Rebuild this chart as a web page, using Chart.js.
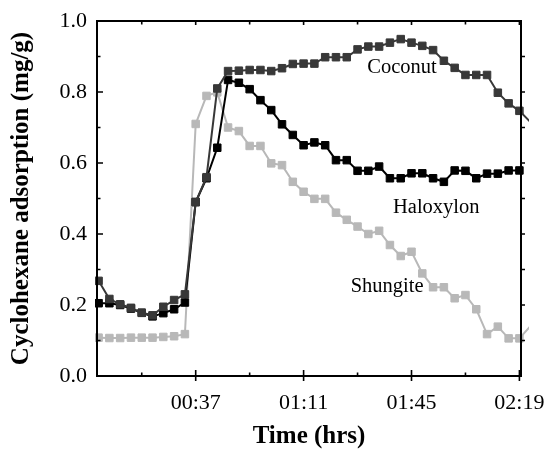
<!DOCTYPE html>
<html>
<head>
<meta charset="utf-8">
<script src="https://cdn.jsdelivr.net/npm/chart.js@4"></script>
<style>
  html, body { margin: 0; padding: 0; background: #fff; }
  canvas { display: block; }
</style>
</head>
<body>
<canvas id="chart" width="548" height="458"></canvas>
<script>
/* ── Data ───────────────────────────────────────────────── */

// sample times in minutes (one reading roughly every 3.4 min)
const timeMin = [
  6.2, 9.6, 13.0, 16.4, 19.8, 23.2, 26.6, 30.0, 33.4, 36.8,
  40.2, 43.6, 47.0, 50.4, 53.8, 57.2, 60.6, 64.0, 67.4, 70.8,
  74.2, 77.6, 81.0, 84.4, 87.8, 91.2, 94.6, 98.0, 101.4, 104.8,
  108.2, 111.6, 115.0, 118.4, 121.8, 125.2, 128.6, 132.0, 135.4, 138.8,
  142.2
];

const coconut = [
  0.268, 0.217, 0.202, 0.192, 0.178, 0.171, 0.195, 0.214, 0.230, 0.490,
  0.560, 0.810, 0.859, 0.860, 0.862, 0.862, 0.859, 0.867, 0.879, 0.880,
  0.880, 0.898, 0.898, 0.898, 0.920, 0.928, 0.928, 0.939, 0.949, 0.939,
  0.930, 0.918, 0.888, 0.868, 0.848, 0.848, 0.848, 0.798, 0.768, 0.747,
  0.716
];

const haloxylon = [
  0.205, 0.205, 0.200, 0.190, 0.178, 0.168, 0.177, 0.188, 0.207, 0.490,
  0.557, 0.643, 0.834, 0.826, 0.808, 0.777, 0.749, 0.709, 0.679, 0.650,
  0.658, 0.650, 0.608, 0.608, 0.578, 0.578, 0.590, 0.557, 0.557, 0.571,
  0.571, 0.557, 0.547, 0.579, 0.578, 0.557, 0.570, 0.570, 0.579, 0.579
];

const shungite = [
  0.108, 0.107, 0.107, 0.108, 0.108, 0.108, 0.110, 0.112, 0.118, 0.710,
  0.789, 0.799, 0.700, 0.690, 0.648, 0.648, 0.599, 0.594, 0.547, 0.519,
  0.499, 0.499, 0.460, 0.440, 0.421, 0.400, 0.409, 0.369, 0.338, 0.350,
  0.289, 0.250, 0.250, 0.219, 0.228, 0.188, 0.118, 0.139, 0.106, 0.106,
  0.140
];

const xTickValues = [36.8, 70.8, 104.8, 138.8];
const xTickLabels = ['00:37', '01:11', '01:45', '02:19'];
const xMinorTicks = [19.8, 53.8, 87.8, 121.8];

const seriesLabels = [
  { text: 'Coconut',   x: 101.8, y: 0.870 },
  { text: 'Haloxylon', x: 112.6, y: 0.473 },
  { text: 'Shungite',  x: 97.1,  y: 0.251 }
];


/* ── Config ─────────────────────────────────────────────── */

const X_MIN = 5.7;
const X_MAX = 139.3;
const FONT  = 'Liberation Serif';

const colors = {
  coconut:   '#383838',
  haloxylon: '#000000',
  shungite:  '#b8b8b8'
};

function toPoints(values) {
  return values.map((v, i) => ({ x: timeMin[i], y: v }));
}

function makeDataset(label, values, color) {
  return {
    label,
    data: toPoints(values),
    borderColor: color,
    backgroundColor: color,
    borderWidth: 2,
    pointStyle: 'rect',
    pointRadius: ctx => (ctx.raw && ctx.raw.x > X_MAX ? 0 : 5.3),
    pointBorderWidth: 1,
    pointBorderColor: color,
    pointBackgroundColor: color,
    tension: 0,
    clip: { left: 2, top: 2, right: 8, bottom: 2 }
  };
}


/* ── Frame, ticks and labels ───────────────────────────── */

const framePlugin = {
  id: 'frame',
  afterDraw(chart) {
    const { ctx, chartArea: a, scales } = chart;
    const xs = scales.x, ys = scales.y;
    ctx.save();
    ctx.strokeStyle = '#000';
    ctx.lineWidth = 2;
    ctx.strokeRect(a.left, a.top, a.right - a.left, a.bottom - a.top);

    ctx.lineWidth = 1.6;
    ctx.beginPath();
    // bottom + top ticks
    xTickValues.forEach(v => {
      const px = xs.getPixelForValue(v);
      ctx.moveTo(px, a.bottom + 5); ctx.lineTo(px, a.bottom - 6);
      ctx.moveTo(px, a.top);        ctx.lineTo(px, a.top + 4);
    });
    xMinorTicks.forEach(v => {
      const px = xs.getPixelForValue(v);
      ctx.moveTo(px, a.bottom); ctx.lineTo(px, a.bottom - 3.5);
      ctx.moveTo(px, a.top);    ctx.lineTo(px, a.top + 3.5);
    });
    // left + right ticks every 0.1
    for (let k = 1; k < 10; k++) {
      const py = ys.getPixelForValue(k / 10);
      const len = k % 2 === 0 ? 6 : 3.5;
      ctx.moveTo(a.left, py);  ctx.lineTo(a.left + len, py);
      ctx.moveTo(a.right, py); ctx.lineTo(a.right + 4, py);
    }
    ctx.stroke();

    ctx.fillStyle = '#000';
    ctx.font = `20.5px "${FONT}"`;
    ctx.textAlign = 'center';
    ctx.textBaseline = 'middle';
    seriesLabels.forEach(l => {
      ctx.fillText(l.text, xs.getPixelForValue(l.x), ys.getPixelForValue(l.y));
    });
    ctx.restore();
  }
};


/* ── Chart ──────────────────────────────────────────────── */

new Chart(document.getElementById('chart'), {
  type: 'line',
  data: {
    datasets: [
      makeDataset('Coconut',   coconut,   colors.coconut),
      makeDataset('Haloxylon', haloxylon, colors.haloxylon),
      makeDataset('Shungite',  shungite,  colors.shungite)
    ]
  },
  options: {
    responsive: false,
    animation: false,
    layout: { padding: { top: 21, right: 27, left: 0, bottom: 0 } },
    plugins: { legend: { display: false }, tooltip: { enabled: false } },
    scales: {
      x: {
        type: 'linear',
        min: X_MIN, max: X_MAX,
        afterFit: s => {
          s.height = 82;
          s.paddingLeft = 0;
          s.paddingRight = 0;
        },
        afterBuildTicks: s => { s.ticks = xTickValues.map(v => ({ value: v })); },
        grid: { display: false, drawTicks: false },
        border: { display: false },
        ticks: {
          padding: 14,
          color: '#000',
          font: { family: FONT, size: 22 },
          maxRotation: 0,
          autoSkip: false,
          callback: (v, i) => xTickLabels[i]
        },
        title: {
          display: true,
          text: 'Time (hrs)',
          color: '#000',
          font: { family: FONT, size: 25, weight: 'bold' },
          padding: { top: 0, bottom: 6 }
        }
      },
      y: {
        min: 0, max: 1,
        afterFit: s => {
          s.width = 97;
          s.paddingTop = 0;
          s.paddingBottom = 0;
        },
        grid: { display: false, drawTicks: false },
        border: { display: false },
        ticks: {
          stepSize: 0.2,
          padding: 10,
          color: '#000',
          font: { family: FONT, size: 22 },
          callback: v => v.toFixed(1)
        },
        title: {
          display: true,
          text: 'Cyclohexane adsorption (mg/g)',
          color: '#000',
          font: { family: FONT, size: 25, weight: 'bold' },
          padding: { top: 7, bottom: 0 }
        }
      }
    }
  },
  plugins: [framePlugin]
});
</script>
</body>
</html>
